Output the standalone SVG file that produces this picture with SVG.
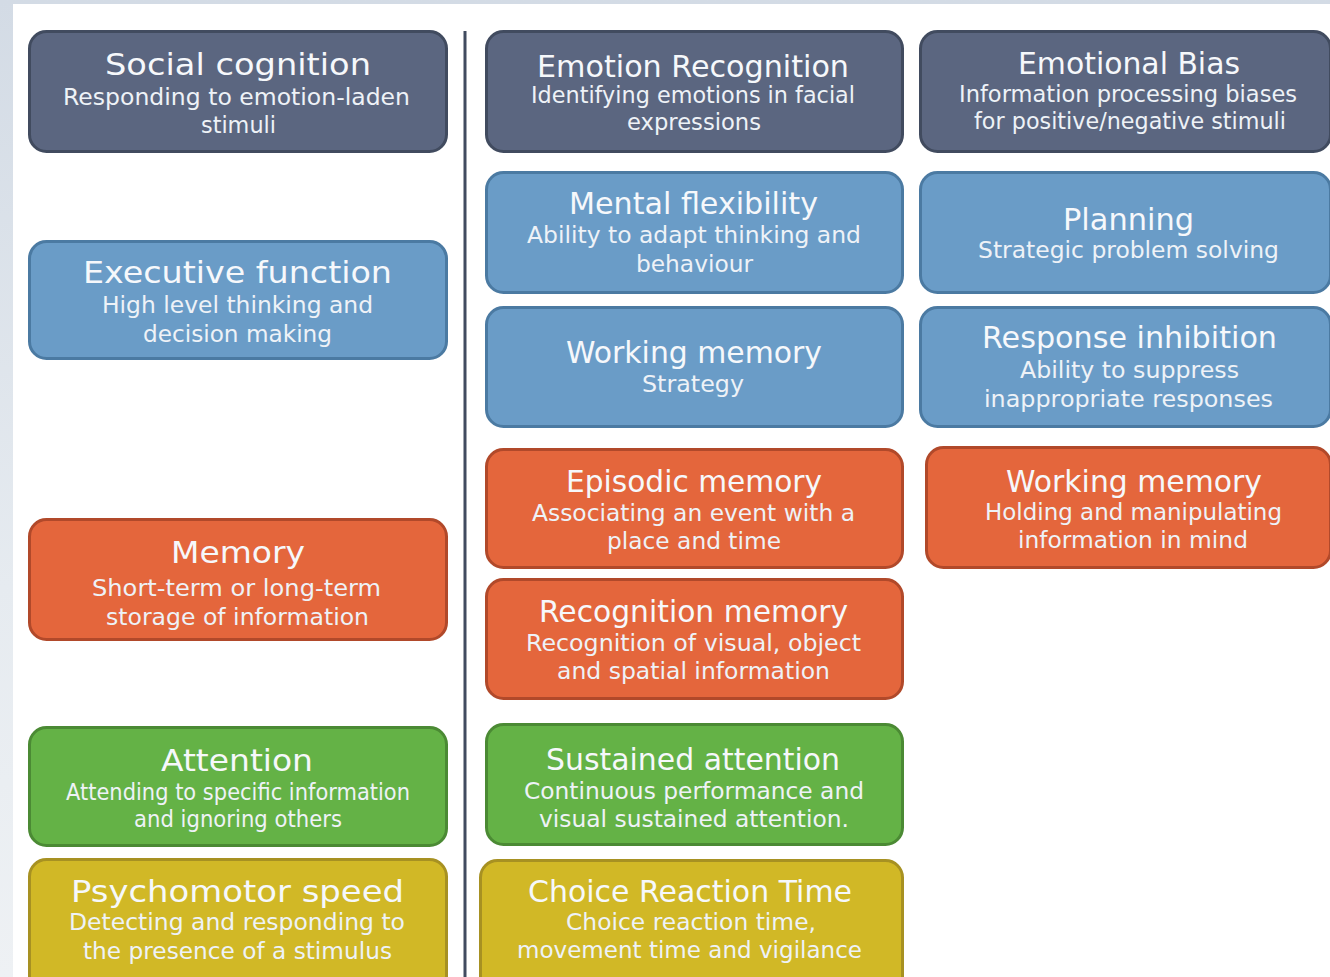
<svg xmlns="http://www.w3.org/2000/svg" width="1330" height="977" viewBox="0 0 1330 977">
<defs>
<linearGradient id="edge" x1="0" y1="0" x2="0" y2="1">
<stop offset="0" stop-color="#d3dbe5"/>
<stop offset="0.6" stop-color="#e6ebf0"/>
<stop offset="1" stop-color="#eef1f4"/>
</linearGradient>
<style>
.box{stroke-width:3}
.slate{fill:#5b6680;stroke:#414b5f}
.blue{fill:#6a9cc7;stroke:#4b7aa2}
.orange{fill:#e4663c;stroke:#b1492a}
.green{fill:#64b246;stroke:#4b8a34}
.yellow{fill:#d1b826;stroke:#a79122}
text{font-family:"DejaVu Sans","Liberation Sans",sans-serif;fill:#f6f8fb;text-anchor:middle}
.t{font-size:30px}
.s{font-size:22.5px;fill:#eef2f7}
</style>
</defs>
<rect x="0" y="0" width="1330" height="977" fill="url(#edge)"/>
<rect x="13" y="4" width="1317" height="973" fill="#ffffff"/>
<g id="connectors">
<line x1="465" y1="31" x2="465" y2="977" stroke="#414b5f" stroke-width="3"/>
</g>
<g id="social">
<rect class="box slate" x="29.5" y="31.5" width="417" height="120" rx="17"/>
<text class="t" x="238" y="75" textLength="266" lengthAdjust="spacingAndGlyphs">Social cognition</text>
<text class="s" x="236.5" y="105" textLength="347" lengthAdjust="spacingAndGlyphs">Responding to emotion-laden</text>
<text class="s" x="238.5" y="133" textLength="75" lengthAdjust="spacingAndGlyphs">stimuli</text>
</g>
<g id="executive">
<rect class="box blue" x="29.5" y="241.5" width="417" height="117" rx="17"/>
<text class="t" x="237.5" y="283" textLength="309" lengthAdjust="spacingAndGlyphs">Executive function</text>
<text class="s" x="237.5" y="313" textLength="271" lengthAdjust="spacingAndGlyphs">High level thinking and</text>
<text class="s" x="237.5" y="342" textLength="189" lengthAdjust="spacingAndGlyphs">decision making</text>
</g>
<g id="memory">
<rect class="box orange" x="29.5" y="519.5" width="417" height="120" rx="17"/>
<text class="t" x="238" y="563" textLength="134" lengthAdjust="spacingAndGlyphs">Memory</text>
<text class="s" x="236.5" y="596" textLength="289" lengthAdjust="spacingAndGlyphs">Short-term or long-term</text>
<text class="s" x="237.5" y="625" textLength="263" lengthAdjust="spacingAndGlyphs">storage of information</text>
</g>
<g id="attention">
<rect class="box green" x="29.5" y="727.5" width="417" height="118" rx="17"/>
<text class="t" x="237" y="771" textLength="152" lengthAdjust="spacingAndGlyphs">Attention</text>
<text class="s" x="238" y="800" textLength="344" lengthAdjust="spacingAndGlyphs">Attending to specific information</text>
<text class="s" x="238" y="827" textLength="208" lengthAdjust="spacingAndGlyphs">and ignoring others</text>
</g>
<g id="psychomotor">
<rect class="box yellow" x="29.5" y="859.5" width="417" height="140" rx="17"/>
<text class="t" x="237.5" y="902" textLength="333" lengthAdjust="spacingAndGlyphs">Psychomotor speed</text>
<text class="s" x="237" y="930" textLength="336" lengthAdjust="spacingAndGlyphs">Detecting and responding to</text>
<text class="s" x="237.5" y="959" textLength="309" lengthAdjust="spacingAndGlyphs">the presence of a stimulus</text>
</g>
<g id="emotion-recognition">
<rect class="box slate" x="486.5" y="31.5" width="416" height="120" rx="17"/>
<text class="t" x="693" y="77" textLength="312" lengthAdjust="spacingAndGlyphs">Emotion Recognition</text>
<text class="s" x="693" y="103" textLength="324" lengthAdjust="spacingAndGlyphs">Identifying emotions in facial</text>
<text class="s" x="694" y="130" textLength="134" lengthAdjust="spacingAndGlyphs">expressions</text>
</g>
<g id="mental-flexibility">
<rect class="box blue" x="486.5" y="172.5" width="416" height="120" rx="17"/>
<text class="t" x="693.5" y="214" textLength="249" lengthAdjust="spacingAndGlyphs">Mental flexibility</text>
<text class="s" x="694" y="243" textLength="334" lengthAdjust="spacingAndGlyphs">Ability to adapt thinking and</text>
<text class="s" x="694.5" y="272" textLength="117" lengthAdjust="spacingAndGlyphs">behaviour</text>
</g>
<g id="working-memory-strategy">
<rect class="box blue" x="486.5" y="307.5" width="416" height="119" rx="17"/>
<text class="t" x="694" y="363" textLength="256" lengthAdjust="spacingAndGlyphs">Working memory</text>
<text class="s" x="693" y="392" textLength="102" lengthAdjust="spacingAndGlyphs">Strategy</text>
</g>
<g id="episodic-memory">
<rect class="box orange" x="486.5" y="449.5" width="416" height="118" rx="17"/>
<text class="t" x="694" y="492" textLength="256" lengthAdjust="spacingAndGlyphs">Episodic memory</text>
<text class="s" x="693.5" y="521" textLength="323" lengthAdjust="spacingAndGlyphs">Associating an event with a</text>
<text class="s" x="694" y="549" textLength="174" lengthAdjust="spacingAndGlyphs">place and time</text>
</g>
<g id="recognition-memory">
<rect class="box orange" x="486.5" y="579.5" width="416" height="119" rx="17"/>
<text class="t" x="693.5" y="622" textLength="309" lengthAdjust="spacingAndGlyphs">Recognition memory</text>
<text class="s" x="693.5" y="651" textLength="335" lengthAdjust="spacingAndGlyphs">Recognition of visual, object</text>
<text class="s" x="693.5" y="679" textLength="273" lengthAdjust="spacingAndGlyphs">and spatial information</text>
</g>
<g id="sustained-attention">
<rect class="box green" x="486.5" y="724.5" width="416" height="120" rx="17"/>
<text class="t" x="693" y="770" textLength="294" lengthAdjust="spacingAndGlyphs">Sustained attention</text>
<text class="s" x="694" y="799" textLength="340" lengthAdjust="spacingAndGlyphs">Continuous performance and</text>
<text class="s" x="694" y="827" textLength="310" lengthAdjust="spacingAndGlyphs">visual sustained attention.</text>
</g>
<g id="choice-reaction-time">
<rect class="box yellow" x="480.5" y="860.5" width="422" height="140" rx="17"/>
<text class="t" x="690" y="902" textLength="324" lengthAdjust="spacingAndGlyphs">Choice Reaction Time</text>
<text class="s" x="691" y="930" textLength="250" lengthAdjust="spacingAndGlyphs">Choice reaction time,</text>
<text class="s" x="689.5" y="958" textLength="345" lengthAdjust="spacingAndGlyphs">movement time and vigilance</text>
</g>
<g id="emotional-bias">
<rect class="box slate" x="920.5" y="31.5" width="410" height="120" rx="17"/>
<text class="t" x="1129" y="74" textLength="222" lengthAdjust="spacingAndGlyphs">Emotional Bias</text>
<text class="s" x="1128" y="102" textLength="338" lengthAdjust="spacingAndGlyphs">Information processing biases</text>
<text class="s" x="1130" y="129" textLength="312" lengthAdjust="spacingAndGlyphs">for positive/negative stimuli</text>
</g>
<g id="planning">
<rect class="box blue" x="920.5" y="172.5" width="410" height="120" rx="17"/>
<text class="t" x="1128.5" y="230" textLength="131" lengthAdjust="spacingAndGlyphs">Planning</text>
<text class="s" x="1128.5" y="258" textLength="301" lengthAdjust="spacingAndGlyphs">Strategic problem solving</text>
</g>
<g id="response-inhibition">
<rect class="box blue" x="920.5" y="307.5" width="410" height="119" rx="17"/>
<text class="t" x="1129.5" y="348" textLength="295" lengthAdjust="spacingAndGlyphs">Response inhibition</text>
<text class="s" x="1129.5" y="378" textLength="219" lengthAdjust="spacingAndGlyphs">Ability to suppress</text>
<text class="s" x="1128.5" y="407" textLength="289" lengthAdjust="spacingAndGlyphs">inappropriate responses</text>
</g>
<g id="working-memory-holding">
<rect class="box orange" x="926.5" y="447.5" width="404" height="120" rx="17"/>
<text class="t" x="1134" y="492" textLength="256" lengthAdjust="spacingAndGlyphs">Working memory</text>
<text class="s" x="1133.5" y="520" textLength="297" lengthAdjust="spacingAndGlyphs">Holding and manipulating</text>
<text class="s" x="1133" y="548" textLength="230" lengthAdjust="spacingAndGlyphs">information in mind</text>
</g>
</svg>
